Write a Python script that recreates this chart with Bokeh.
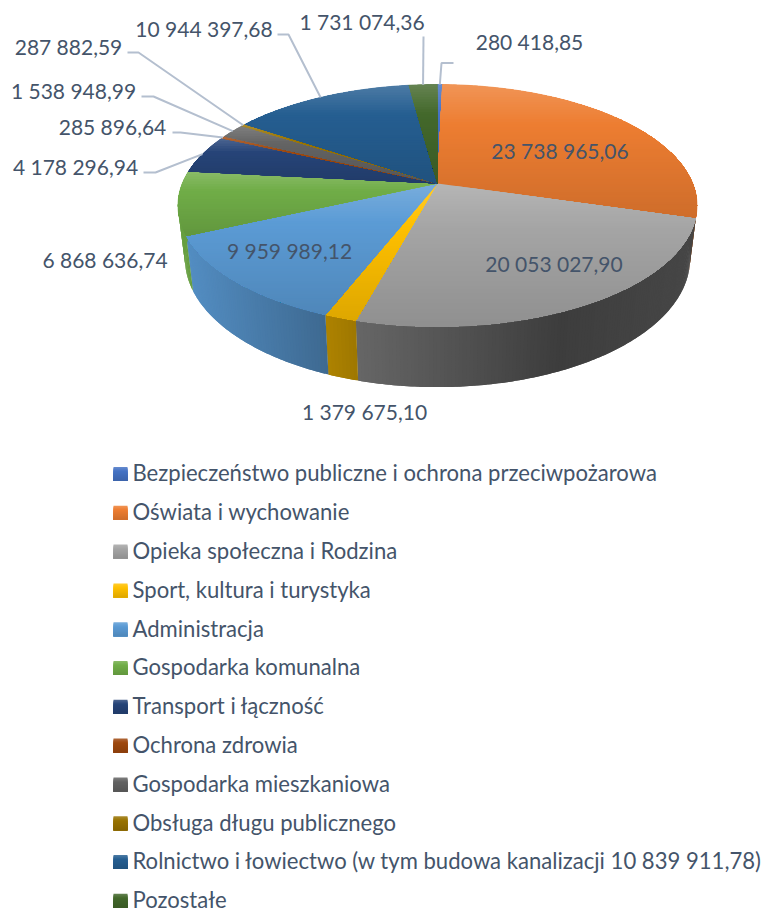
import numpy as np
from bokeh.plotting import figure
from bokeh.models import Range1d
from bokeh.embed import file_html
from bokeh.resources import INLINE
from bokeh.core.properties import value

# ---- data ----
categories = ["Bezpieczeństwo publiczne i ochrona przeciwpożarowa", "Oświata i wychowanie",
              "Opieka społeczna i Rodzina", "Sport, kultura i turystyka", "Administracja",
              "Gospodarka komunalna", "Transport i łączność", "Ochrona zdrowia",
              "Gospodarka mieszkaniowa", "Obsługa długu publicznego",
              "Rolnictwo i łowiectwo (w tym budowa kanalizacji 10 839 911,78)", "Pozostałe"]
values = [280418.85, 23738965.06, 20053027.90, 1379675.10, 9959989.12, 6868636.74,
          4178296.94, 285896.64, 1538948.99, 287882.59, 10944397.68, 1731074.36]
value_labels = ["280 418,85", "23 738 965,06", "20 053 027,90", "1 379 675,10", "9 959 989,12",
                "6 868 636,74", "4 178 296,94", "285 896,64", "1 538 948,99", "287 882,59",
                "10 944 397,68", "1 731 074,36"]
colors = ["#4472c4", "#ed7d31", "#a5a5a5", "#ffc000", "#5b9bd5", "#70ad47",
          "#264478", "#9e480e", "#636363", "#997300", "#255e91", "#43682b"]

# ---- layout ----
CX, CY, A, B, K = 437.0, 183.0, 255.2, 117.0, 0.182
D0, D1, SHRINK = 52.0, 0.06, 0.973
FONT, LABEL_SIZE, LEG_SIZE, TXT = "Lato", "21px", "22.1px", "#44546a"
LINE = "#b4bfcf"
label_pos = [(529, 40.5), (559.5, 150), (553.5, 263), (364, 411), (289, 250), (104.5, 259),
             (75, 166), (112, 126), (73, 90), (68, 46), (203.5, 28), (361.5, 21)]
leaders = {0: [(453, 62.5), (441, 62.5)], 11: [(423, 36)], 10: [(277, 34), (288, 34)],
           9: [(127, 52), (138, 52)], 8: [(141, 96), (153, 96)], 7: [(172, 132), (180, 132)],
           6: [(143, 172), (155, 172)]}
LEG_X0, LEG_X1, LEG_TX, LEG_Y0, LEG_DY, LEG_S, LEG_TEXT_DY = 113, 127, 132, 473.5, 38.8, 14, -1.2


def hex2rgb(c):
    return np.array([int(c[i:i + 2], 16) for i in (1, 3, 5)], float)


def rgb2hex(v):
    v = np.clip(np.round(v), 0, 255).astype(int)
    return "#%02x%02x%02x" % tuple(v)


def rim(theta):
    u, v = np.sin(theta), np.cos(theta)
    w = 1 + K * v
    return CX + A * u / w, CY - B * v / w


def clip_below(pts, y0):
    out = []
    for i in range(len(pts)):
        p, q = pts[i], pts[(i + 1) % len(pts)]
        ip, iq = p[1] >= y0, q[1] >= y0
        if ip:
            out.append(p)
        if ip != iq:
            t = (y0 - p[1]) / (q[1] - p[1])
            out.append((p[0] + t * (q[0] - p[0]), y0))
    return out


def face_color(base, t):
    b = hex2rgb(base)
    if t < 0.3:
        return rgb2hex(b + (255 - b) * 0.18 * (1 - t / 0.3))
    return rgb2hex(b * (1 - 0.13 * (t - 0.3) / 0.7))


def gradient_strips(poly, base, step=2.5):
    # painter's approach: every strip reaches the shape's bottom, the next one paints over it
    ys_all = [q[1] for q in poly]
    lo, hi = min(ys_all), max(ys_all)
    xs, ys, cols = [], [], []
    y = lo
    while y < hi:
        piece = clip_below(poly, y)
        if len(piece) >= 3:
            xs.append([q[0] for q in piece])
            ys.append([q[1] for q in piece])
            cols.append(face_color(base, (y + step / 2 - lo) / max(hi - lo, 1)))
        y += step
    return xs, ys, cols


p = figure(width=762, height=913, x_range=Range1d(0, 762), y_range=Range1d(913, 0),
           x_axis_type=None, y_axis_type=None, toolbar_location=None, output_backend="svg",
           min_border=0, outline_line_color=None, background_fill_color="white")
p.grid.visible = False

fr = np.cumsum([0] + values) / sum(values)
angles = fr * 2 * np.pi

# side walls
wx, wy, wc = [], [], []
for i, base in enumerate(colors):
    n = max(int((angles[i + 1] - angles[i]) / 0.012), 2)
    th = np.linspace(angles[i], angles[i + 1], n + 1)
    X, Y = rim(th)
    Xb = CX + (X - CX) * SHRINK
    Yb = Y + D0 + D1 * (Y - CY)
    for j in range(n):
        if np.cos(th[j]) > 0.35:
            continue
        e = min(j + 2, n)
        shade = np.interp((X[j] + X[j + 1]) / 2, [180, 325, 355, 560, 700], [0.92, 0.68, 0.62, 0.37, 0.43])
        wx.append([X[j], X[j + 1], X[e], Xb[e], Xb[j + 1], Xb[j]])
        wy.append([Y[j], Y[j + 1], Y[e], Yb[e], Yb[j + 1], Yb[j]])
        wc.append(rgb2hex(hex2rgb(base) * shade))
p.patches(wx, wy, fill_color=wc, line_color=None)

# top faces: an underlay per slice closes the seams, gradient strips go over it
ux, uy, uc, fx, fy, fc = [], [], [], [], [], []
for i, base in enumerate(colors):
    n = max(int((angles[i + 1] - angles[i]) / 0.012), 2)
    th = np.linspace(angles[i], angles[i + 1], n + 1)
    X, Y = rim(th)
    poly = [(CX, CY)] + list(zip(X.tolist(), Y.tolist()))
    ux.append([q[0] for q in poly]); uy.append([q[1] for q in poly]); uc.append(base)
    a, b, c = gradient_strips(poly, base)
    fx += a; fy += b; fc += c
p.patches(ux, uy, fill_color=uc, line_color=uc, line_width=0.6)
p.patches(fx, fy, fill_color=fc, line_color=None)

# leader lines end on the rim at each slice's middle
lx, ly = [], []
for i, knees in leaders.items():
    ex, ey = rim((angles[i] + angles[i + 1]) / 2)
    lx.append([k[0] for k in knees] + [float(ex)])
    ly.append([k[1] for k in knees] + [float(ey)])
p.multi_line(lx, ly, line_color=LINE, line_width=2)

# value labels
for (x, y), t in zip(label_pos, value_labels):
    p.text([x], [y], text=[t], text_font=value(FONT), text_font_size=LABEL_SIZE, text_color=TXT,
           text_align="center", text_baseline="middle")

# legend
mx, my, mc = [], [], []
for i, (name, base) in enumerate(zip(categories, colors)):
    yc = LEG_Y0 + i * LEG_DY
    square = [(LEG_X0, yc - LEG_S / 2), (LEG_X1, yc - LEG_S / 2), (LEG_X1, yc + LEG_S / 2), (LEG_X0, yc + LEG_S / 2)]
    a, b, c = gradient_strips(square, base, step=1.0)
    mx += a; my += b; mc += c
    p.text([LEG_TX], [yc + LEG_TEXT_DY], text=[name], text_font=value(FONT), text_font_size=LEG_SIZE, text_color=TXT,
           text_align="left", text_baseline="middle")
p.patches(mx, my, fill_color=mc, line_color=None)

open("out.html", "w").write(file_html(p, INLINE))
